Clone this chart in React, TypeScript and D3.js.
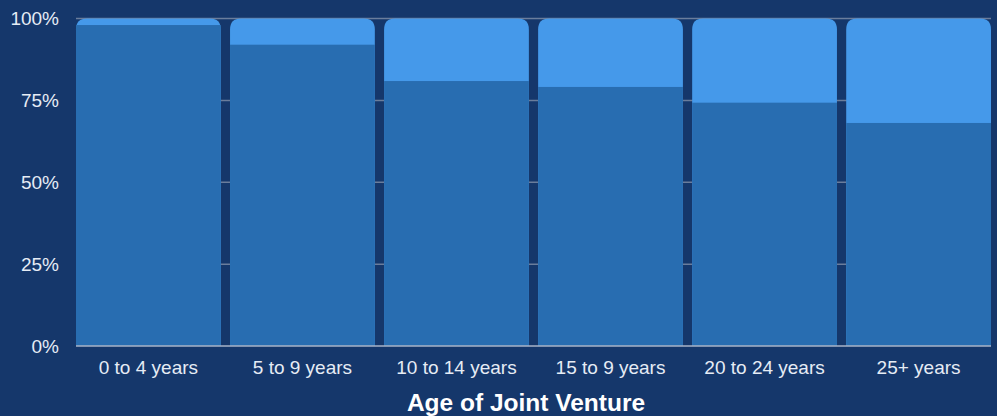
import React, { useEffect, useRef } from "react";
import * as d3 from "d3";

const categories = ["0 to 4 years", "5 to 9 years", "10 to 14 years", "15 to 9 years", "20 to 24 years", "25+ years"];
const lowerShare = [98.0, 92.0, 80.9, 79.1, 74.3, 68.1];
const yTicks = [0, 25, 50, 75, 100];

const W = 997;
const H = 416;
const margin = { top: 18.5, right: 6, bottom: 70, left: 76 };
const BG = "#15376b";
const DARK = "#286db1";
const LIGHT = "#4599ea";
const TEXT = "#e6ecf5";
const FONT = "'Liberation Sans', Arial, sans-serif";

// rect with only top corners rounded
const topRounded = (x: number, y: number, w: number, h: number, r: number) => {
  const rr = Math.min(r, h, w / 2);
  return `M${x},${y + h}V${y + rr}Q${x},${y} ${x + rr},${y}H${x + w - rr}Q${x + w},${y} ${x + w},${y + rr}V${y + h}Z`;
};

const App = () => {
  const ref = useRef<SVGSVGElement>(null);

  useEffect(() => {
    const svg = d3.select(ref.current);
    svg.selectAll("*").remove();

    const x = d3
      .scaleBand()
      .domain(categories)
      .range([margin.left, W - margin.right])
      .paddingInner(0.06)
      .paddingOuter(0);
    const y = d3.scaleLinear().domain([0, 100]).range([H - margin.bottom, margin.top]);

    svg.append("rect").attr("width", W).attr("height", H).attr("fill", BG);

    // grid
    svg
      .append("g")
      .selectAll("line")
      .data(yTicks.filter((t) => t > 0))
      .join("line")
      .attr("x1", margin.left)
      .attr("x2", W - margin.right)
      .attr("y1", (d) => y(d))
      .attr("y2", (d) => y(d))
      .attr("stroke", "#6a7d9c")
      .attr("stroke-width", 1.5);

    const bars = svg.append("g");
    categories.forEach((c, i) => {
      const bx = x(c)!;
      const bw = x.bandwidth();
      // full bar (upper share) with rounded top
      bars
        .append("path")
        .attr("d", topRounded(bx, y(100), bw, y(0) - y(100), 11))
        .attr("fill", LIGHT);
      // lower share
      bars
        .append("rect")
        .attr("x", bx)
        .attr("y", y(lowerShare[i]))
        .attr("width", bw)
        .attr("height", y(0) - y(lowerShare[i]))
        .attr("fill", DARK);
    });

    // baseline
    svg
      .append("line")
      .attr("x1", margin.left)
      .attr("x2", W - margin.right)
      .attr("y1", y(0))
      .attr("y2", y(0))
      .attr("stroke", "#a9b5c8")
      .attr("stroke-width", 1.5);

    // y labels
    svg
      .append("g")
      .selectAll("text")
      .data(yTicks)
      .join("text")
      .attr("x", 59)
      .attr("y", (d) => y(d))
      .attr("dy", "0.36em")
      .attr("text-anchor", "end")
      .attr("font-family", FONT)
      .attr("font-size", 19)
      .attr("fill", TEXT)
      .text((d) => `${d}%`);

    // x labels
    svg
      .append("g")
      .selectAll("text")
      .data(categories)
      .join("text")
      .attr("x", (d) => x(d)! + x.bandwidth() / 2)
      .attr("y", 374)
      .attr("text-anchor", "middle")
      .attr("font-family", FONT)
      .attr("font-size", 19)
      .attr("fill", TEXT)
      .text((d) => d);

    svg
      .append("text")
      .attr("x", 526)
      .attr("y", 411)
      .attr("text-anchor", "middle")
      .attr("font-family", FONT)
      .attr("font-size", 24.5)
      .attr("font-weight", "bold")
      .attr("fill", "#ffffff")
      .text("Age of Joint Venture");
  }, []);

  return (
    <svg
      ref={ref}
      width={W}
      height={H}
      style={{ position: "fixed", left: 0, top: 0, display: "block" }}
    />
  );
};

export default App;
